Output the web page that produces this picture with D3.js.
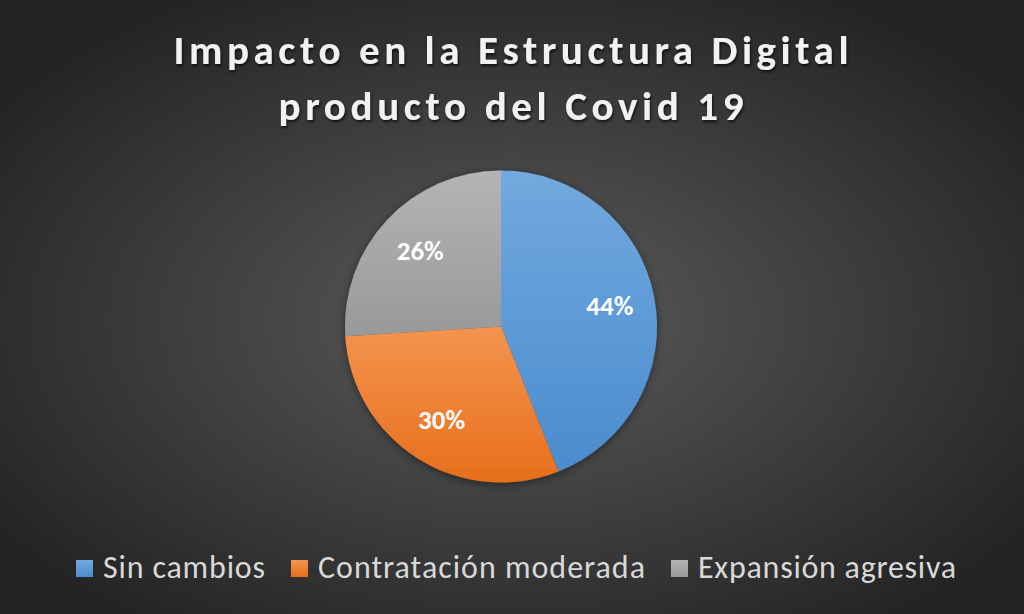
<!DOCTYPE html>
<html>
<head>
<meta charset="utf-8">
<script src="https://cdn.jsdelivr.net/npm/d3@7"></script>
<style>
  html, body { margin: 0; padding: 0; background: #2a2a2a; }
  #chart { width: 1024px; height: 614px; }
</style>
</head>
<body>
<div id="chart"></div>
<script>
const titleLines = ["Impacto en la Estructura Digital", "producto del Covid 19"];
const categories = ["Sin cambios", "Contratación moderada", "Expansión agresiva"];
const values = [44, 30, 26];
const labels = ["44%", "30%", "26%"];

const FONT = "Carlito, Calibri, Lato, 'Open Sans', sans-serif";

const width = 1024;
const height = 614;

const svg = d3
  .select("#chart")
  .append("svg")
  .attr("width", width)
  .attr("height", height);

const defs = svg.append("defs");

// background radial gradient
const bg = defs
  .append("radialGradient")
  .attr("id", "bg")
  .attr("cx", "50%")
  .attr("cy", "52%")
  .attr("r", "62%");
bg.append("stop").attr("offset", "0%").attr("stop-color", "#5c5c5c");
bg.append("stop").attr("offset", "100%").attr("stop-color", "#232323");

svg
  .append("rect")
  .attr("width", width)
  .attr("height", height)
  .attr("fill", "url(#bg)");

// slice gradients (light top -> darker bottom)
const shades = [
  ["#72a9de", "#4a8cce"],
  ["#f4944f", "#e76f1b"],
  ["#b4b4b4", "#999999"],
];

shades.forEach((s, i) => {
  const lg = defs
    .append("linearGradient")
    .attr("id", `slice${i}`)
    .attr("x1", 0)
    .attr("y1", 0)
    .attr("x2", 0)
    .attr("y2", 1);
  lg.append("stop").attr("offset", "0%").attr("stop-color", s[0]);
  lg.append("stop").attr("offset", "100%").attr("stop-color", s[1]);
});

const shadow = defs
  .append("filter")
  .attr("id", "shadow")
  .attr("x", "-20%")
  .attr("y", "-20%")
  .attr("width", "140%")
  .attr("height", "140%");
shadow
  .append("feDropShadow")
  .attr("dx", 0)
  .attr("dy", 2)
  .attr("stdDeviation", 4)
  .attr("flood-color", "#000")
  .attr("flood-opacity", 0.45);

const tshadow = defs
  .append("filter")
  .attr("id", "tshadow")
  .attr("x", "-5%")
  .attr("y", "-20%")
  .attr("width", "110%")
  .attr("height", "150%");
tshadow
  .append("feDropShadow")
  .attr("dx", 1)
  .attr("dy", 2)
  .attr("stdDeviation", 1.5)
  .attr("flood-color", "#000")
  .attr("flood-opacity", 0.7);

// Title
const titleWidths = [675, 465];
svg
  .append("g")
  .attr("filter", "url(#tshadow)")
  .selectAll("text")
  .data(titleLines)
  .join("text")
  .attr("x", 511)
  .attr("y", (d, i) => 64 + i * 56)
  .attr("text-anchor", "middle")
  .attr("font-family", FONT)
  .attr("font-weight", "bold")
  .attr("font-size", 41)
  .attr("fill", "#f2f2f2")
  .attr("textLength", (d, i) => titleWidths[i])
  .attr("lengthAdjust", "spacing")
  .text((d) => d);

// Pie
const cx = 501;
const cy = 326.5;
const r = 156;

const pie = d3.pie().sort(null).startAngle(0).endAngle(2 * Math.PI);
const arcs = pie(values);
const arc = d3.arc().innerRadius(0).outerRadius(r);
const labelArc = d3.arc().innerRadius(r * 0.71).outerRadius(r * 0.71);

const pg = svg.append("g").attr("transform", `translate(${cx},${cy})`);

pg.append("g")
  .attr("filter", "url(#shadow)")
  .selectAll("path")
  .data(arcs)
  .join("path")
  .attr("d", arc)
  .attr("fill", (d, i) => `url(#slice${i})`);

pg.selectAll("text.lbl")
  .data(arcs)
  .join("text")
  .attr("class", "lbl")
  .attr("transform", (d) => `translate(${labelArc.centroid(d)})`)
  .attr("text-anchor", "middle")
  .attr("dy", "0.35em")
  .attr("font-family", FONT)
  .attr("font-weight", "bold")
  .attr("font-size", 27)
  .attr("fill", "#ffffff")
  .text((d, i) => labels[i]);

// Legend
const legendText = [162, 327, 258];
const sq = 17;
const gapIn = 10;
const gapOut = 26;
const total =
  d3.sum(legendText) + categories.length * (sq + gapIn) + (categories.length - 1) * gapOut;
let lx = 516 - total / 2;

const legend = svg.append("g");
categories.forEach((c, i) => {
  const item = legend.append("g").attr("transform", `translate(${lx},0)`);
  item
    .append("rect")
    .attr("x", 0)
    .attr("y", 560)
    .attr("width", sq)
    .attr("height", sq)
    .attr("fill", `url(#slice${i})`);
  item
    .append("text")
    .attr("x", sq + gapIn)
    .attr("y", 578)
    .attr("font-family", FONT)
    .attr("font-size", 32)
    .attr("fill", "#d9d9d9")
    .attr("textLength", legendText[i])
    .attr("lengthAdjust", "spacing")
    .text(c);
  lx += sq + gapIn + legendText[i] + gapOut;
});
</script>
</body>
</html>
